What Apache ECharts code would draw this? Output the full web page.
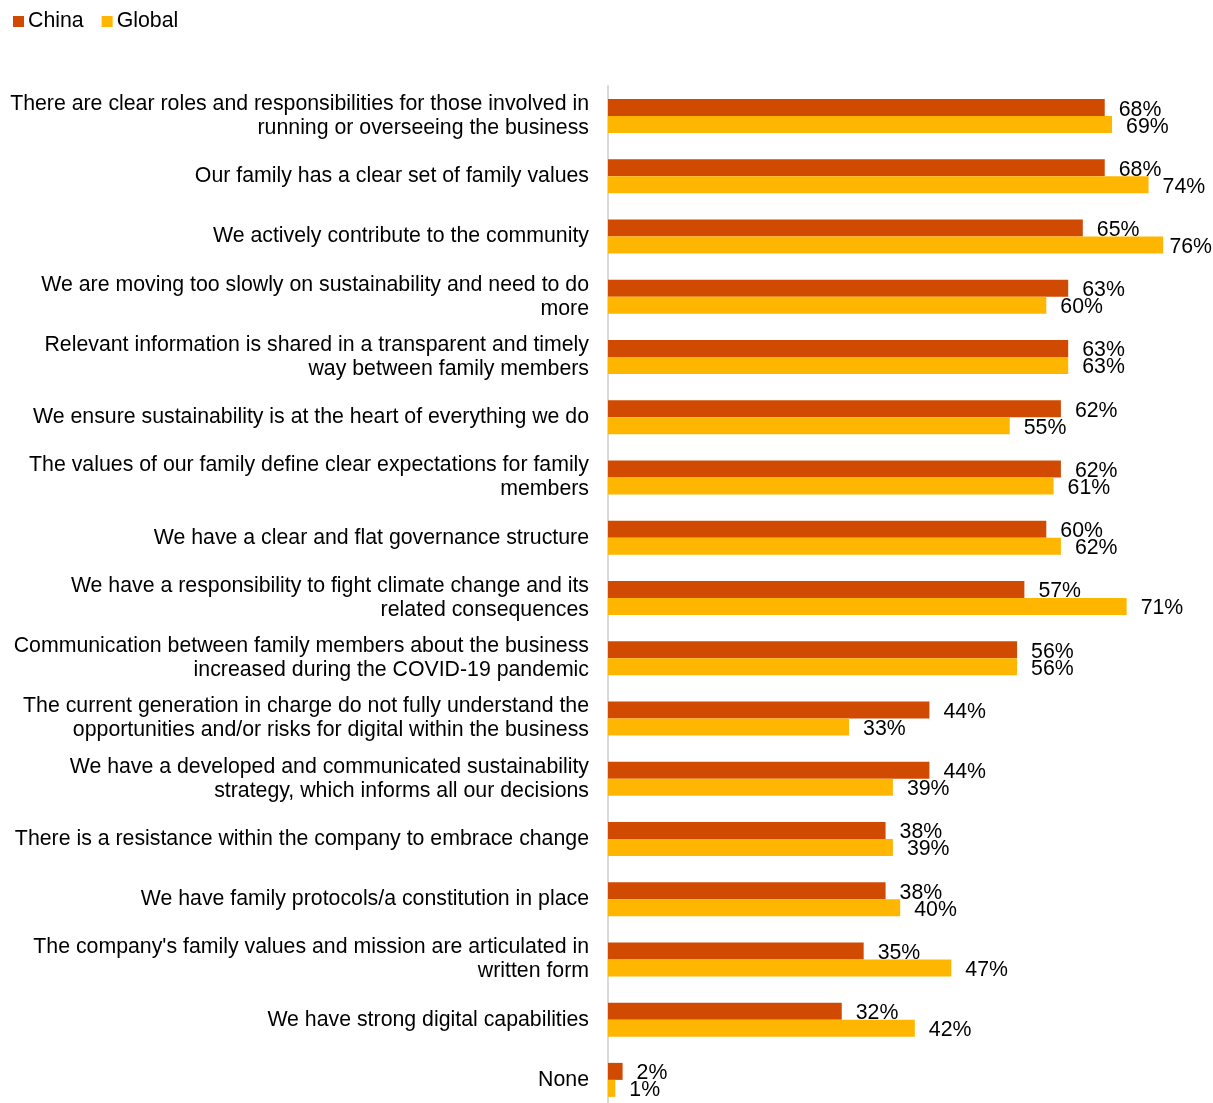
<!DOCTYPE html>
<html>
<head>
<meta charset="utf-8">
<script src="https://cdn.jsdelivr.net/npm/echarts@6/dist/echarts.min.js"></script>
<style>
  html, body { margin: 0; padding: 0; background: #fff; }
  #chart { width: 1213px; height: 1103px; }
</style>
</head>
<body>
<div id="chart"></div>
<script>
// Statements, in the order they are listed from top to bottom
const categories = [
  "There are clear roles and responsibilities for those involved in\nrunning or overseeing the business",
  "Our family has a clear set of family values",
  "We actively contribute to the community",
  "We are moving too slowly on sustainability and need to do\nmore",
  "Relevant information is shared in a transparent and timely\nway between family members",
  "We ensure sustainability is at the heart of everything we do",
  "The values of our family define clear expectations for family\nmembers",
  "We have a clear and flat governance structure",
  "We have a responsibility to fight climate change and its\nrelated consequences",
  "Communication between family members about the business\nincreased during the COVID-19 pandemic",
  "The current generation in charge do not fully understand the\nopportunities and/or risks for digital within the business",
  "We have a developed and communicated sustainability\nstrategy, which informs all our decisions",
  "There is a resistance within the company to embrace change",
  "We have family protocols/a constitution in place",
  "The company's family values and mission are articulated in\nwritten form",
  "We have strong digital capabilities",
  "None"
];

// Share of respondents agreeing (%)
const chinaValues  = [68, 68, 65, 63, 63, 62, 62, 60, 57, 56, 44, 44, 38, 38, 35, 32, 2];
const globalValues = [69, 74, 76, 60, 63, 55, 61, 62, 71, 56, 33, 39, 39, 40, 47, 42, 1];

const seriesNames = ["China", "Global"];

const FONT = "'Liberation Sans', Arial, Helvetica, sans-serif";
const FONT_SIZE = 21.3;
const CANVAS_W = 1213;

const chart = echarts.init(document.getElementById('chart'), null, { renderer: 'canvas' });

const valueLabel = {
  show: true,
  position: 'right',
  distance: 14,
  formatter: p => p.value + '%',
  color: '#000',
  fontFamily: FONT,
  fontSize: FONT_SIZE
};

// nudge value labels down a little and keep them inside the canvas
// when a bar runs close to the right edge
const placeLabel = params => {
  const r = params.labelRect;
  const overflow = r.x + r.width - (CANVAS_W - 1);
  return { dx: overflow > 0 ? -overflow : 0, dy: 2 };
};

chart.setOption({
  animation: false,
  backgroundColor: '#fff',
  legend: {
    left: 13,
    top: 11,
    padding: 0,
    itemWidth: 11,
    itemHeight: 11,
    itemGap: 18,
    icon: 'rect',
    textStyle: { fontFamily: FONT, fontSize: FONT_SIZE, color: '#000', padding: [0, 0, 0, -1] },
    data: seriesNames
  },
  // the last row runs slightly past the bottom edge of the canvas
  grid: { left: 608, width: 599, top: 86, height: 1024, outerBoundsMode: 'none', containLabel: false },
  xAxis: {
    type: 'value',
    min: 0,
    max: 82,
    show: false
  },
  yAxis: {
    type: 'category',
    inverse: true,
    data: categories,
    axisLine: { show: true, lineStyle: { color: '#d9d9d9', width: 2 } },
    axisTick: { show: false },
    axisLabel: {
      margin: 19,
      fontFamily: FONT,
      fontSize: FONT_SIZE,
      lineHeight: 24,
      color: '#000',
      align: 'right'
    }
  },
  series: [
    {
      name: seriesNames[0],
      type: 'bar',
      data: chinaValues,
      barWidth: 17,
      barGap: '0%',
      itemStyle: { color: '#D04A02' },
      label: valueLabel,
      labelLayout: placeLabel
    },
    {
      name: seriesNames[1],
      type: 'bar',
      data: globalValues,
      barWidth: 17,
      barGap: '0%',
      itemStyle: { color: '#FFB600' },
      label: valueLabel,
      labelLayout: placeLabel
    }
  ]
});
</script>
</body>
</html>
